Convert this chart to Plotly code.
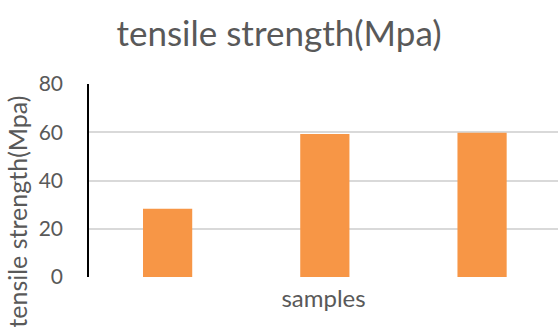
import plotly.graph_objects as go

# Tensile strength per sample (MPa)
categories = ["sample 1", "sample 2", "sample 3"]
strength = [28.3, 59.3, 59.8]
y_ticks = [0, 20, 40, 60, 80]

TEXT = "#595959"
FONT = "Lato, 'Open Sans', sans-serif"

fig = go.Figure(
    go.Bar(
        x=categories,
        y=strength,
        width=0.313,
        marker=dict(color="#F79646", line=dict(width=0)),
    )
)

fig.update_layout(
    width=558,
    height=327,
    margin=dict(l=89, r=0, t=84, b=50),
    paper_bgcolor="white",
    plot_bgcolor="white",
    showlegend=False,
    font=dict(family=FONT, color=TEXT),
    title=dict(
        text="tensile strength(Mpa)",
        x=0.5,
        xref="container",
        xanchor="center",
        y=1 - 34 / 327,
        yref="container",
        yanchor="middle",
        font=dict(size=35, color=TEXT, family=FONT),
    ),
    xaxis=dict(
        range=[-0.5, 2.483],
        showticklabels=False,
        showgrid=False,
        zeroline=False,
        showline=False,
        ticks="",
        title=dict(text="samples", font=dict(size=24, color=TEXT), standoff=13),
    ),
    yaxis=dict(
        range=[0, 80],
        tickvals=y_ticks,
        tickfont=dict(size=21, color=TEXT),
        showgrid=True,
        gridcolor="#D9D9D9",
        gridwidth=1.5,
        zeroline=False,
        showline=True,
        linecolor="black",
        linewidth=1.5,
        ticks="",
        ticklabelstandoff=20,
    ),
    annotations=[
        dict(
            text="tensile strength(Mpa)",
            xref="paper",
            yref="paper",
            x=(17 - 89) / 469,
            y=(277.5 - 212) / 193.5,
            xanchor="center",
            yanchor="middle",
            textangle=-90,
            showarrow=False,
            font=dict(size=25, color=TEXT, family=FONT),
        )
    ],
)

fig.write_html("out.html")
